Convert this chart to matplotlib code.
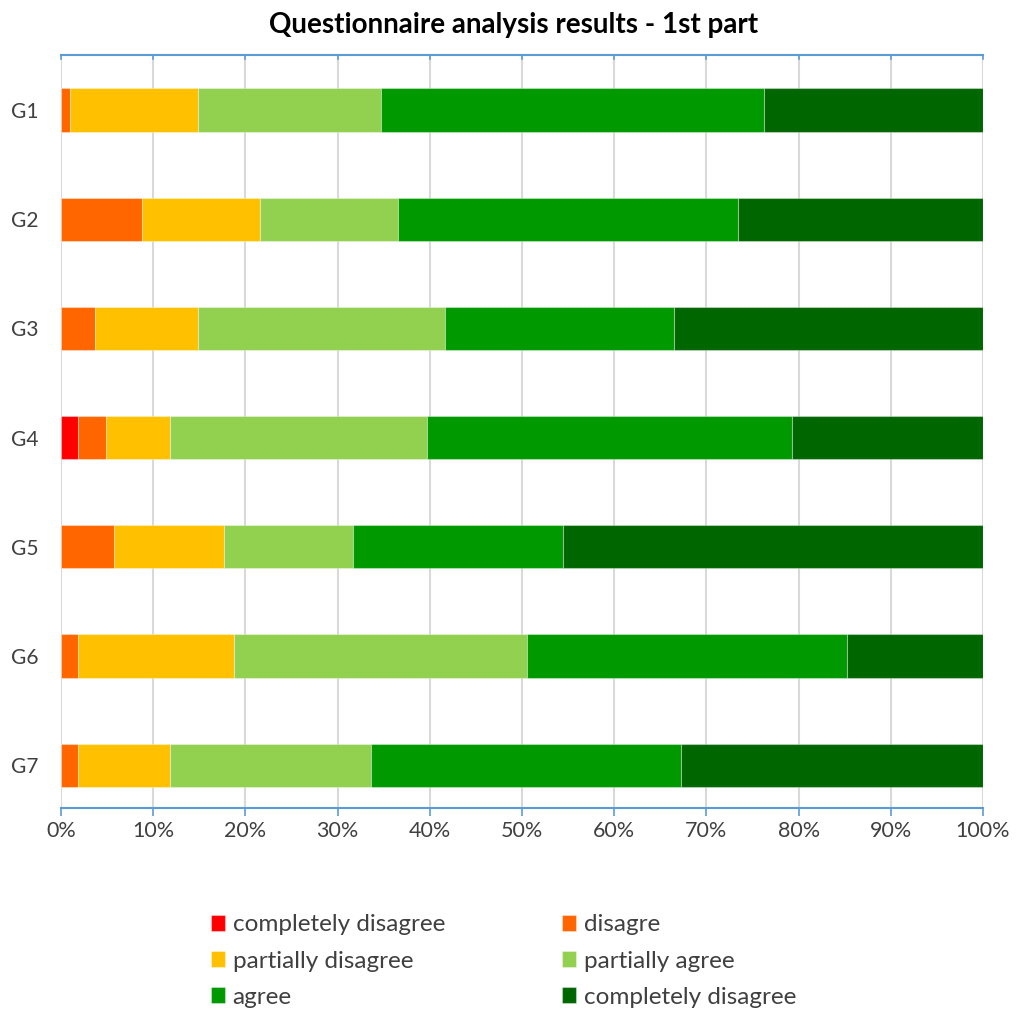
import matplotlib
matplotlib.use("Agg")
import matplotlib.pyplot as plt
import numpy as np

plt.rcParams['font.family'] = ['Lato', 'DejaVu Sans']

groups = ["G1", "G2", "G3", "G4", "G5", "G6", "G7"]
series_names = ["completely disagree", "disagre", "partially disagree",
                "partially agree", "agree", "completely disagree"]
completely_disagree = [0.0, 0.0, 0.0, 1.8, 0.0, 0.0, 0.0]
disagree = [1.0, 8.8, 3.7, 3.05, 5.7, 1.8, 1.8]
partially_disagree = [13.9, 12.8, 11.2, 6.95, 12.0, 17.0, 10.0]
partially_agree = [19.8, 15.0, 26.8, 27.9, 14.0, 31.7, 21.8]
agree = [41.5, 36.8, 24.8, 39.55, 22.7, 34.8, 33.6]
completely_agree = [23.8, 26.6, 33.5, 20.75, 45.6, 14.7, 32.8]
colors = ["#FF0000", "#FF6600", "#FFC000", "#92D050", "#009900", "#006600"]

series = [completely_disagree, disagree, partially_disagree,
          partially_agree, agree, completely_agree]

fig = plt.figure(figsize=(10.17, 10.14), dpi=100)
ax = fig.add_axes([61/1017, 1-808.3/1014, (983-61)/1017, (808.3-54.5)/1014])

y = np.arange(len(groups))
left = np.zeros(len(groups))
handles = []
for vals, name, c in zip(series, series_names, colors):
    vals = np.array(vals)
    h = ax.barh(y, vals, left=left, height=0.395, color=c, label=name,
                edgecolor=(1, 1, 1, 0.35), linewidth=0.8, zorder=3)
    handles.append(h)
    left += vals

ax.set_xlim(0, 100)
ax.set_ylim(6.394, -0.508)
ax.set_xticks(np.arange(0, 101, 10))
ax.set_xticklabels([f"{v}%" for v in range(0, 101, 10)], fontsize=15.5, color="#404040")
ax.set_yticks(y)
ax.set_yticklabels(groups, fontsize=15, color="#404040")
ax.tick_params(axis='y', length=0, pad=16)
ax.tick_params(axis='x', length=6, width=1.2, color="#5B9BD5", pad=3, direction='out')
ax.grid(axis='x', color="#D9D9D9", linewidth=1.5, zorder=0)
ax.set_axisbelow(True)
for s in ["left", "right"]:
    ax.spines[s].set_visible(False)
ax.spines["bottom"].set_color("#5B9BD5")
ax.spines["bottom"].set_linewidth(1.5)
ax.spines["top"].set_color("#5B9BD5")
ax.spines["top"].set_linewidth(1.5)

# top tick marks pointing inward
for v in range(0, 101, 10):
    ax.plot([v, v], [-0.508, -0.508 + 0.045], color="#5B9BD5", lw=1.2,
            clip_on=False, zorder=4)

fig.text(0.505, 1 - 25/1014, "Questionnaire analysis results - 1st part",
         ha="center", va="center", fontsize=20, fontweight="bold", color="#000000")

order = [0, 2, 4, 1, 3, 5]
leg = fig.legend([handles[i] for i in order], [series_names[i] for i in order],
                 ncol=2, loc="center", bbox_to_anchor=(0.495, 1 - 961/1014),
                 frameon=False, fontsize=17.5, handlelength=0.6, handleheight=0.6,
                 handletextpad=0.3, columnspacing=4.8, labelspacing=0.62,
                 labelcolor="#404040")

fig.savefig("out.png", dpi=100, facecolor="white")
